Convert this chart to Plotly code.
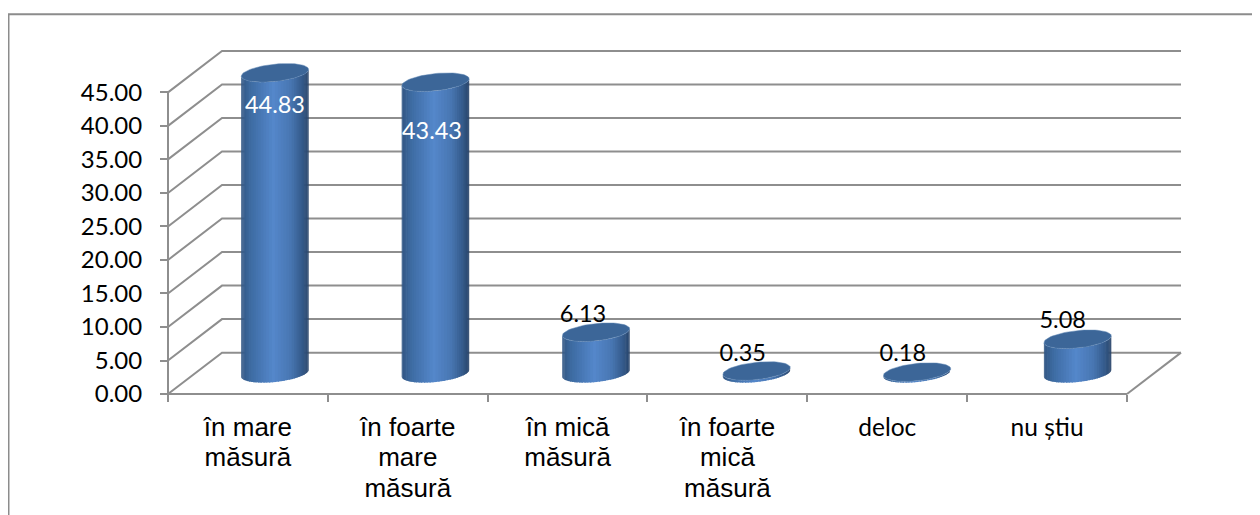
import math
import plotly.graph_objects as go

categories = ["în mare măsură", "în foarte mare măsură", "în mică măsură",
              "în foarte mică măsură", "deloc", "nu știu"]
tick_lines = [["în mare", "măsură"], ["în foarte", "mare", "măsură"], ["în mică", "măsură"],
              ["în foarte", "mică", "măsură"], ["deloc"], ["nu știu"]]
values = [44.83, 43.43, 6.13, 0.35, 0.18, 5.08]
value_labels = ["44.83", "43.43", "6.13", "0.35", "0.18", "5.08"]
y_ticks = [0, 5, 10, 15, 20, 25, 30, 35, 40, 45]
label_shift_x = [0.0, -0.022, -0.081, -0.086, -0.089, -0.093]
label_shift_y = [-5.05, -7.55, 2.45, 2.4, 2.6, 2.6]

CAT_PX = 159.8
VAL_PX = 6.722
PAD = 4
# oblique-projection constants, in axis units
DEPTH_X = 54 / CAT_PX
DEPTH_Y = 41.5 / VAL_PX
RADIUS_X = 31.4 / CAT_PX
RADIUS_DEPTH = 0.225
BAR_STEP = 160.5 / CAT_PX
GRID = "#8e8e8e"
CAP = "#3c6698"
LW = 2

def tick_label(lines):
    if len(lines) == 1:
        style = "font-family:Lato;font-size:24.5px"
    else:
        style = "font-size:26px"
    return "<br>".join('<span style="%s">%s</span>' % (style, s) for s in lines)

def shade(f):
    stops = [(0.0, (50, 88, 134)), (0.12, (62, 108, 163)), (0.45, (84, 135, 203)),
             (0.72, (72, 118, 178)), (0.9, (52, 90, 138)), (1.0, (40, 68, 106))]
    for (a, ca), (b, cb) in zip(stops, stops[1:]):
        if f <= b:
            u = (f - a) / (b - a)
            return "rgb(%d,%d,%d)" % tuple(round(p + (q - p) * u) for p, q in zip(ca, cb))
    return "rgb(40,68,106)"

def center_x(i):
    return i * BAR_STEP + DEPTH_X / 2

def ellipse(t, i, level):
    cy = level + DEPTH_Y / 2
    return (center_x(i) + RADIUS_X * math.cos(t) + RADIUS_DEPTH * DEPTH_X * math.sin(t),
            cy + RADIUS_DEPTH * DEPTH_Y * math.sin(t))

def line_trace(xs, ys):
    return go.Scatter(x=xs, y=ys, mode="lines", line=dict(color=GRID, width=LW),
                      hoverinfo="skip", showlegend=False)

fig = go.Figure()
idx = list(range(len(categories)))
last = len(categories) - 0.5

# back wall gridlines, side wall, floor front edge, front value axis line
for v in y_ticks:
    fig.add_trace(line_trace([-0.5, -0.5 + DEPTH_X, last + DEPTH_X], [v, v + DEPTH_Y, v + DEPTH_Y]))
fig.add_trace(line_trace([last, last + DEPTH_X], [0, DEPTH_Y]))
fig.add_trace(line_trace([-0.5, last], [0, 0]))
fig.add_trace(line_trace([-0.5, -0.5], [0, y_ticks[-1]]))

# cylinders
STRIPS = 36
phi = math.atan2(RADIUS_DEPTH * DEPTH_X, RADIUS_X)
for i, v in zip(idx, values):
    t0 = -math.pi + phi   # leftmost point of the ellipse
    t1 = phi              # rightmost point
    for k in range(STRIPS):
        a = t0 + (t1 - t0) * k / STRIPS
        b = t0 + (t1 - t0) * min(k + 1.4, STRIPS) / STRIPS
        pts = [ellipse(a, i, 0), ellipse(b, i, 0), ellipse(b, i, v), ellipse(a, i, v)]
        f = (pts[0][0] - center_x(i)) / (2 * RADIUS_X * 1.05) + 0.5
        fig.add_trace(go.Scatter(
            x=[p[0] for p in pts] + [pts[0][0]], y=[p[1] for p in pts] + [pts[0][1]],
            mode="lines", fill="toself", fillcolor=shade(max(0, min(1, f))),
            line=dict(width=0), hoverinfo="skip", showlegend=False))
    pts = [ellipse(2 * math.pi * n / 72, i, v) for n in range(73)]
    fig.add_trace(go.Scatter(
        x=[p[0] for p in pts], y=[p[1] for p in pts], mode="lines", fill="toself",
        fillcolor=CAP, line=dict(width=0.5, color="#5f86b5"),
        hoverinfo="skip", showlegend=False))

# value labels
fig.add_trace(go.Scatter(
    x=[center_x(i) + dx for i, dx in zip(idx, label_shift_x)],
    y=[v + DEPTH_Y / 2 + dy for v, dy in zip(values, label_shift_y)],
    mode="text", text=value_labels, textposition="middle center",
    textfont=dict(family="Lato", size=23.5, color=["white", "white", "black", "black", "black", "black"]),
    cliponaxis=False, hoverinfo="skip", showlegend=False))

# page geometry; the page body has an 8px margin, so the figure starts at (8, 8)
LEFT, RIGHT = 168 - PAD, 1127 + 54 + PAD
TOP, BOTTOM = 92 - 41.5 - PAD, 394.5 + PAD
FIG_W, FIG_H = 1252, 507
PW, PH = RIGHT - LEFT, BOTTOM - TOP

def paper_x(px):
    return (px - LEFT) / PW

def paper_y(py):
    return (BOTTOM - py) / PH

fig.update_layout(
    width=FIG_W, height=FIG_H, autosize=False,
    margin=dict(l=LEFT - 8, r=FIG_W - (RIGHT - 8), t=TOP - 8, b=FIG_H - (BOTTOM - 8), autoexpand=False),
    paper_bgcolor="white", plot_bgcolor="rgba(0,0,0,0)",
    font=dict(family="Liberation Sans", color="black"),
    showlegend=False,
    xaxis=dict(type="linear", range=[-0.5 - PAD / CAT_PX, last + (54 + PAD) / CAT_PX],
               anchor="free", position=PAD / PH,
               tickmode="array", tickvals=idx, ticktext=[tick_label(s) for s in tick_lines],
               tickangle=0, ticks="", ticklabelstandoff=17, showgrid=False,
               showline=False, zeroline=False,
               minor=dict(tickmode="array", tickvals=[n - 0.5 for n in range(len(categories) + 1)],
                          ticks="outside", ticklen=7, tickwidth=LW, tickcolor=GRID, showgrid=False),
               tickfont=dict(family="Liberation Sans", size=23.5, color="black")),
    yaxis=dict(range=[-PAD / VAL_PX, y_ticks[-1] + (41.5 + PAD) / VAL_PX],
               anchor="free", position=PAD / PW,
               tickmode="array", tickvals=y_ticks, tickformat=".2f",
               ticks="outside", ticklen=8, tickwidth=LW, tickcolor=GRID, ticklabelstandoff=13,
               showgrid=False, showline=False, zeroline=False,
               tickfont=dict(family="Lato", size=24, color="black")),
    shapes=[dict(type="path", xref="paper", yref="paper",
                 path="M %f,%f L %f,%f L %f,%f" % (
                     paper_x(8.5), paper_y(530), paper_x(8.5), paper_y(13.7),
                     paper_x(1270), paper_y(13.7)),
                 line=dict(color="#8c8c8c", width=LW), layer="below")],
)
fig.write_html("out.html")
